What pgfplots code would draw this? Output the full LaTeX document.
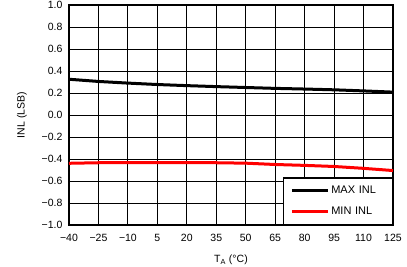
\documentclass[border=0pt]{standalone}
\usepackage{pgfplots}
\pgfplotsset{compat=1.18}
\usepackage{fontspec}
\setmainfont{Liberation Sans}
\begin{document}
\begin{tikzpicture}[x=1pt,y=1pt]
\path[use as bounding box] (0,0) rectangle (407,267);
\begin{axis}[
  at={(69pt,42pt)}, anchor=south west,
  scale only axis, width=324pt, height=220pt,
  xmin=-40, xmax=125, ymin=-1, ymax=1,
  xtick={-40,-25,...,125},
  xticklabels={−40,−25,−10,5,20,35,50,65,80,95,110,125},
  ytick={-1,-0.8,-0.6,-0.4,-0.2,0,0.2,0.4,0.6,0.8,1},
  yticklabels={−1.0,−0.8,−0.6,−0.4,−0.2,0.0,0.2,0.4,0.6,0.8,1.0},
  ticklabel style={font=\fontsize{10.5}{12}\selectfont},
  xticklabel style={yshift=-6pt},
  yticklabel style={xshift=-3pt},
  grid=major, major grid style={black, line width=0.9pt},
  axis line style={line width=2.6pt},
  tick style={draw=none},
  xlabel={T\textsubscript{A} (°C)},
  ylabel={INL (LSB)},
  label style={font=\fontsize{10.5}{12}\selectfont},
  xlabel style={yshift=-6pt},
  ylabel style={yshift=8pt},
  legend style={at={(1,0)}, anchor=south east, draw=black, line width=1.4pt,
    font=\fontsize{11}{12}\selectfont, inner xsep=7pt, inner ysep=6pt,
    row sep=8pt, text width=52pt},
  legend cell align=left,
  legend image code/.code={\draw[#1, line width=3pt] (0pt,0pt) -- (36pt,0pt);},
]
\addplot[black, line width=3pt] coordinates {
(-40,0.325) (-25,0.305) (-10,0.29) (5,0.277) (20,0.267) (35,0.258) (50,0.25) (65,0.242) (80,0.236) (95,0.229) (110,0.219) (125,0.208)};
\addlegendentry{MAX INL}
\addplot[red, line width=3pt] coordinates {
(-40,-0.439) (-25,-0.434) (-10,-0.433) (5,-0.433) (20,-0.433) (35,-0.434) (50,-0.438) (65,-0.45) (80,-0.458) (95,-0.468) (110,-0.485) (125,-0.505)};
\addlegendentry{MIN INL}
\end{axis}
\end{tikzpicture}
\end{document}
